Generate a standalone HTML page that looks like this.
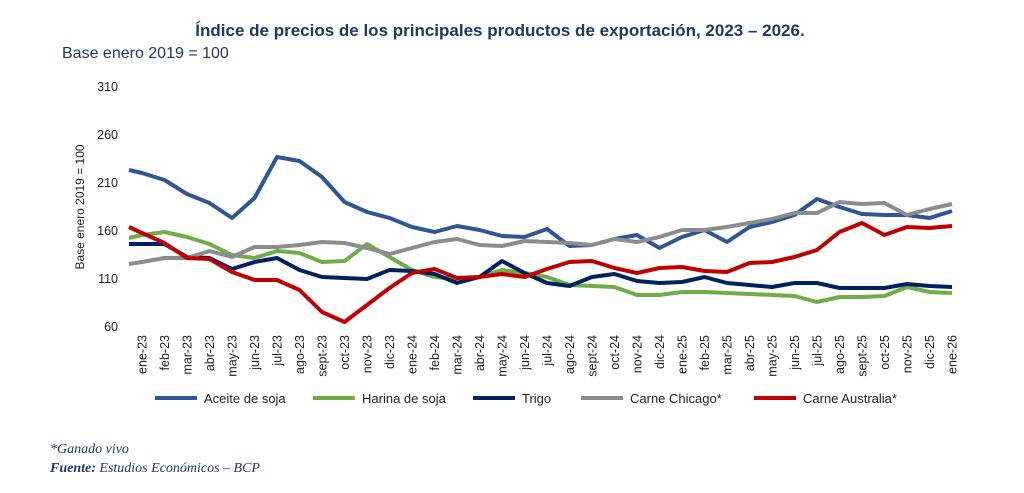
<!DOCTYPE html>
<html><head><meta charset="utf-8"><style>
body{margin:0;background:#fff;}
svg{display:block;font-family:"Liberation Sans",sans-serif;}
</style></head><body>
<svg width="1024" height="493" viewBox="0 0 1024 493" xmlns="http://www.w3.org/2000/svg">
<text x="500" y="36" text-anchor="middle" font-size="17" font-weight="bold" fill="#1f3864">Índice de precios de los principales productos de exportación, 2023 – 2026.</text>
<text x="62" y="58" font-size="16" fill="#1f3864">Base enero 2019 = 100</text>
<g font-size="12.5" fill="#222" text-anchor="end">
<text x="118" y="91">310</text><text x="118" y="139">260</text><text x="118" y="187">210</text>
<text x="118" y="235">160</text><text x="118" y="283">110</text><text x="118" y="331">60</text>
</g>
<text transform="translate(84,207) rotate(-90)" text-anchor="middle" font-size="12" fill="#222">Base enero 2019 = 100</text>
<g font-size="12.5" fill="#222" text-anchor="end" id="xl"></g>
<g fill="none" stroke-width="4" stroke-linejoin="round" id="lines"></g>
<g stroke-width="4">
<line x1="155" y1="398" x2="197" y2="398" stroke="#2f5597"/>
<line x1="313" y1="398" x2="355" y2="398" stroke="#70ad47"/>
<line x1="473" y1="398" x2="515" y2="398" stroke="#002060"/>
<line x1="581" y1="398" x2="623" y2="398" stroke="#8c8c8c"/>
<line x1="754" y1="398" x2="796" y2="398" stroke="#c00000"/>
</g>
<g font-size="13" fill="#222">
<text x="204" y="403">Aceite de soja</text>
<text x="362" y="403">Harina de soja</text>
<text x="522" y="403">Trigo</text>
<text x="630" y="403">Carne Chicago*</text>
<text x="803" y="403">Carne Australia*</text>
</g>
<g font-family="'Liberation Serif',serif" font-style="italic" font-size="14" fill="#1f3864">
<text x="50" y="453">*Ganado vivo</text>
<text x="50" y="472"><tspan font-weight="bold">Fuente:</tspan> Estudios Económicos – BCP</text>
</g>
</svg>
<script>
var m=["ene","feb","mar","abr","may","jun","jul","ago","sept","oct","nov","dic"];
var xl=document.getElementById("xl"),NS="http://www.w3.org/2000/svg";
function X(i){return 142+22.5*i;}
for(var i=0;i<37;i++){var t=document.createElementNS(NS,"text");var x=X(i)+4.5;
t.setAttribute("transform","translate("+x+",335) rotate(-90)");
t.textContent=m[i%12]+"-"+(23+Math.floor(i/12));xl.appendChild(t);}
var S=[
["#2f5597",170,[173,180,194,203,218,198,157,161,177,202,212,218,227,232,226,230,236,237,229,246,245,239,235,248,237,230,242,227,222,215,199,207,214,215,215,218,211]],
["#70ad47",238,[235,232,237,244,255,258,251,253,262,261,244,257,270,277,279,277,270,273,277,285,286,287,295,295,292,292,293,294,295,296,302,297,297,296,287,292,293]],
["#002060",244,[244,244,257,258,269,262,258,270,277,278,279,270,271,274,283,277,261,273,283,286,277,274,281,283,282,277,283,285,287,283,283,288,288,288,284,286,287]],
["#8c8c8c",264,[262,258,258,251,257,247,247,245,242,243,248,254,248,242,239,245,246,241,242,243,245,239,242,237,230,230,227,223,219,213,213,202,204,203,215,209,204]],
["#c00000",227,[233,243,258,259,272,280,280,290,312,322,305,288,273,269,278,277,274,277,269,262,261,268,273,268,267,271,272,263,262,257,250,232,223,235,227,228,226]]];
var g=document.getElementById("lines");
S.forEach(function(s){var p="129,"+s[1];s[2].forEach(function(y,i){p+=" "+X(i)+","+y;});
var l=document.createElementNS(NS,"polyline");l.setAttribute("points",p);l.setAttribute("stroke",s[0]);g.appendChild(l);});
</script>
</body></html>
